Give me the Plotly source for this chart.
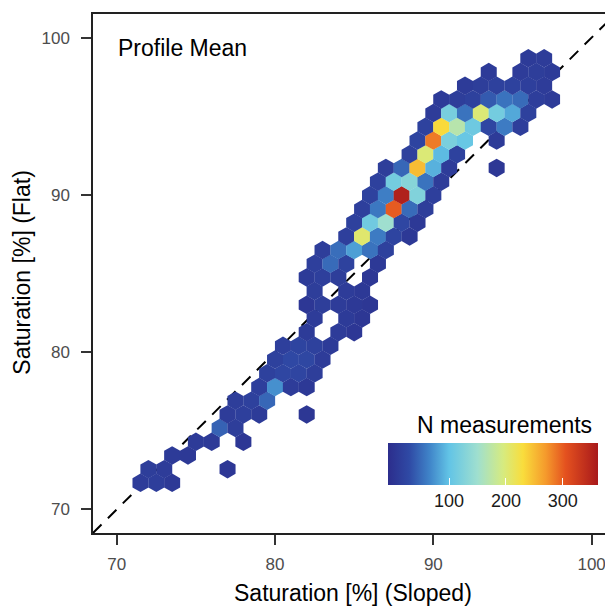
import plotly.graph_objects as go

FONT = "Liberation Sans, Arial, sans-serif"

# hexbin cells: centre x, centre y, count per cell
hex_x = [
    71.5, 72.5, 73.5,
    72, 73, 77,
    73.5, 74.5,
    75, 76, 78,
    76.5, 77.5,
    77, 78, 79, 82,
    77.5, 78.5, 79.5,
    79, 80, 81, 82,
    79.5, 80.5, 81.5, 82.5,
    80, 81, 82, 83,
    80.5, 81.5, 82.5, 83.5,
    82, 84, 85,
    82.5, 84.5, 85.5,
    82, 83, 84, 85, 86,
    82.5, 84.5, 85.5,
    82, 83, 84, 86,
    82.5, 83.5, 84.5, 86.5,
    83, 84, 85, 86, 87,
    84.5, 85.5, 86.5, 87.5, 88.5,
    85, 86, 87, 88, 89,
    85.5, 86.5, 87.5, 88.5, 89.5,
    86, 87, 88, 89, 90,
    86.5, 87.5, 88.5, 89.5, 90.5,
    87, 88, 89, 90, 91, 94,
    88.5, 89.5, 90.5, 91.5,
    89, 90, 91, 92, 94,
    89.5, 90.5, 91.5, 92.5, 93.5, 94.5, 95.5,
    90, 91, 92, 93, 94, 95, 96,
    90.5, 91.5, 92.5, 93.5, 94.5, 95.5, 96.5, 97.5,
    92, 93, 94, 95, 96, 97,
    93.5, 95.5, 96.5, 97.5,
    96, 97,
]
hex_y = [
    71.69, 71.69, 71.69,
    72.56, 72.56, 72.56,
    73.43, 73.43,
    74.30, 74.30, 74.30,
    75.17, 75.17,
    76.04, 76.04, 76.04, 76.04,
    76.91, 76.91, 76.91,
    77.78, 77.78, 77.78, 77.78,
    78.65, 78.65, 78.65, 78.65,
    79.53, 79.53, 79.53, 79.53,
    80.40, 80.40, 80.40, 80.40,
    81.27, 81.27, 81.27,
    82.14, 82.14, 82.14,
    83.01, 83.01, 83.01, 83.01, 83.01,
    83.88, 83.88, 83.88,
    84.75, 84.75, 84.75, 84.75,
    85.62, 85.62, 85.62, 85.62,
    86.49, 86.49, 86.49, 86.49, 86.49,
    87.36, 87.36, 87.36, 87.36, 87.36,
    88.23, 88.23, 88.23, 88.23, 88.23,
    89.10, 89.10, 89.10, 89.10, 89.10,
    89.97, 89.97, 89.97, 89.97, 89.97,
    90.84, 90.84, 90.84, 90.84, 90.84,
    91.71, 91.71, 91.71, 91.71, 91.71, 91.71,
    92.58, 92.58, 92.58, 92.58,
    93.45, 93.45, 93.45, 93.45, 93.45,
    94.33, 94.33, 94.33, 94.33, 94.33, 94.33, 94.33,
    95.20, 95.20, 95.20, 95.20, 95.20, 95.20, 95.20,
    96.07, 96.07, 96.07, 96.07, 96.07, 96.07, 96.07, 96.07,
    96.94, 96.94, 96.94, 96.94, 96.94, 96.94,
    97.81, 97.81, 97.81, 97.81,
    98.68, 98.68,
]
n_meas = [
    12, 15, 8,
    14, 12, 6,
    10, 8,
    10, 9, 6,
    45, 14,
    12, 16, 10, 5,
    14, 18, 48,
    16, 72, 12, 8,
    18, 25, 24, 14,
    18, 28, 26, 12,
    16, 22, 18, 10,
    10, 12, 6,
    12, 10, 5,
    6, 14, 12, 8, 5,
    14, 12, 8,
    10, 16, 14, 6,
    16, 50, 20, 8,
    14, 52, 80, 55, 18,
    16, 205, 60, 22, 8,
    18, 112, 150, 25, 8,
    16, 58, 300, 50, 14,
    20, 62, 354, 125, 16,
    18, 115, 130, 55, 12,
    14, 48, 250, 90, 12, 6,
    18, 200, 95, 20,
    22, 285, 120, 105, 10,
    20, 232, 170, 110, 25, 60, 15,
    12, 118, 55, 200, 115, 85, 18,
    10, 14, 18, 40, 55, 50, 15, 10,
    10, 14, 18, 20, 16, 12,
    10, 12, 14, 10,
    10, 12,
]

diag = [68.5, 101.5]
axis_ticks = [70, 80, 90, 100]
bar_ticks = [100, 200, 300]

c_min, c_max = -7.5, 362
stop_vals = [-7.5, 30, 65, 100, 150, 195, 230, 270, 305, 362]
stop_cols = ["#2c2d8c", "#2f4aa5", "#3f83c8", "#62c4e6", "#9fdfcf",
             "#d6eb80", "#f9dd3c", "#f59a2c", "#e4511f", "#a8191b"]
colorscale = [[(v - c_min) / (c_max - c_min), c] for v, c in zip(stop_vals, stop_cols)]

fig = go.Figure()

# 1:1 line goes under the hexes
fig.add_trace(go.Scatter(
    x=diag, y=diag, mode="lines",
    line=dict(color="black", width=2, dash="12px,9px"),
    hoverinfo="skip", showlegend=False,
))

fig.add_trace(go.Scatter(
    x=hex_x, y=hex_y, mode="markers", showlegend=False,
    marker=dict(
        symbol="hexagon", size=18.5, color=n_meas,
        colorscale=colorscale, cmin=c_min, cmax=c_max,
        line=dict(width=0),
        colorbar=dict(
            orientation="h", thickness=42, thicknessmode="pixels",
            len=210, lenmode="pixels",
            x=0.5673, xanchor="left", y=0.1731, yanchor="top",
            xpad=0, ypad=0, outlinewidth=0,
            tickvals=bar_ticks, ticks="inside", ticklen=7,
            tickcolor="white", tickwidth=1.2,
            tickfont=dict(size=18, color="#1a1a1a", family=FONT),
        ),
    ),
))

fig.add_annotation(x=69.95, y=99.35, xref="x", yref="y", text="Profile Mean",
                   showarrow=False, xanchor="left", yanchor="middle",
                   font=dict(size=23, color="black", family=FONT))
fig.add_annotation(x=0.792, y=0.2077, xref="paper", yref="paper", text="N measurements",
                   showarrow=False, xanchor="center", yanchor="middle",
                   font=dict(size=23, color="black", family=FONT))
# axis titles
fig.add_annotation(x=0.5, y=-0.1156, xref="paper", yref="paper",
                   text="Saturation [%] (Sloped)", showarrow=False,
                   xanchor="center", yanchor="middle",
                   font=dict(size=23, color="black", family=FONT))
fig.add_annotation(x=-0.137, y=0.503, xref="paper", yref="paper",
                   text="Saturation [%] (Flat)", showarrow=False, textangle=-90,
                   xanchor="center", yanchor="middle",
                   font=dict(size=23, color="black", family=FONT))

axis_style = dict(
    tickvals=axis_ticks, ticks="outside", ticklen=10, tickwidth=2, tickcolor="#333333",
    showline=True, linecolor="#222222", linewidth=1.5,
    showgrid=False, zeroline=False, automargin=False,
    tickfont=dict(size=17, color="#4d4d4d", family=FONT),
)
fig.update_xaxes(range=[68.5, 101.35], mirror=True, ticklabelstandoff=5, **axis_style)
fig.update_yaxes(range=[68.5, 101.5], mirror=False, ticklabelstandoff=8, **axis_style)

# the page has an 8px body margin, so the figure is 8px smaller on each side
fig.update_layout(
    width=605, height=598,
    margin=dict(l=85, r=0, t=6, b=73),
    plot_bgcolor="white", paper_bgcolor="white",
    font=dict(family=FONT),
)

fig.write_html("out.html")
